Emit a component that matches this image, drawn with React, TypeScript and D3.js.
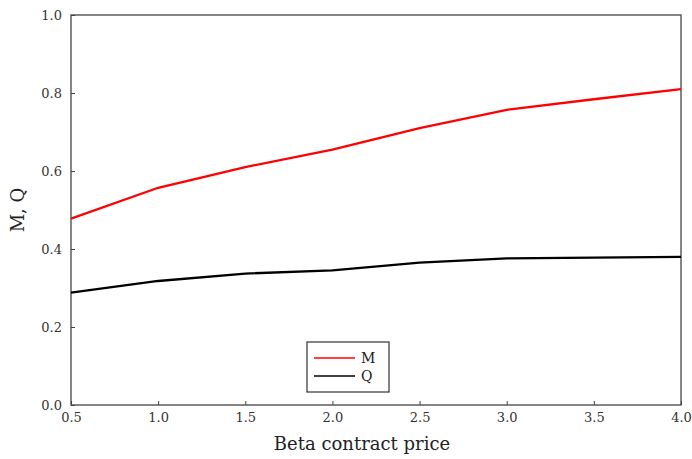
import { useRef, useEffect } from "react";
import * as d3 from "d3";

const prices = [0.5, 1.0, 1.5, 2.0, 2.5, 3.0, 3.5, 4.0];
const mValues = [0.478, 0.557, 0.61, 0.655, 0.71, 0.757, 0.784, 0.81];
const qValues = [0.288, 0.318, 0.337, 0.345, 0.365, 0.376, 0.378, 0.38];
const xTicks = [0.5, 1.0, 1.5, 2.0, 2.5, 3.0, 3.5, 4.0];
const yTicks = [0.0, 0.2, 0.4, 0.6, 0.8, 1.0];
const seriesNames = ["M", "Q"];
const seriesColors = ["#ff0000", "#000000"];

export default function App() {
  const svgRef = useRef<SVGSVGElement>(null);

  useEffect(() => {
    const WIDTH = 692;
    const HEIGHT = 459;
    const left = 71, right = 681, top = 15, bottom = 405;
    const font = "'DejaVu Serif', serif";

    const svg = d3.select(svgRef.current)
      .attr("width", WIDTH)
      .attr("height", HEIGHT);
    svg.selectAll("*").remove();

    const x = d3.scaleLinear().domain([0.5, 4.0]).range([left, right]);
    const y = d3.scaleLinear().domain([0, 1]).range([bottom, top]);

    // frame
    svg.append("rect")
      .attr("x", left).attr("y", top)
      .attr("width", right - left).attr("height", bottom - top)
      .attr("fill", "none").attr("stroke", "#444").attr("stroke-width", 1.3);

    const xAxis = d3.axisBottom(x).tickValues(xTicks).tickSize(-4).tickPadding(8)
      .tickFormat(d3.format(".1f"));
    const gx = svg.append("g").attr("transform", `translate(0,${bottom})`).call(xAxis);
    gx.select(".domain").remove();
    gx.selectAll("line").attr("stroke", "#444");
    gx.selectAll("text").attr("font-family", font).attr("font-size", 13).attr("fill", "#333");

    const yAxis = d3.axisLeft(y).tickValues(yTicks).tickSize(-4).tickPadding(9)
      .tickFormat(d3.format(".1f"));
    const gy = svg.append("g").attr("transform", `translate(${left},0)`).call(yAxis);
    gy.select(".domain").remove();
    gy.selectAll("line").attr("stroke", "#444");
    gy.selectAll("text").attr("font-family", font).attr("font-size", 13).attr("fill", "#333");

    const line = d3.line<number>()
      .x((d, i) => x(prices[i]))
      .y(d => y(d));

    [mValues, qValues].forEach((vals, i) => {
      svg.append("path")
        .attr("d", line(vals))
        .attr("fill", "none")
        .attr("stroke", seriesColors[i])
        .attr("stroke-width", 2.3);
    });

    // legend
    const lg = svg.append("g");
    lg.append("rect")
      .attr("x", 307).attr("y", 342).attr("width", 82).attr("height", 50)
      .attr("fill", "white").attr("stroke", "#333").attr("stroke-width", 1.2);
    seriesNames.forEach((name, i) => {
      const ly = 358 + i * 18;
      lg.append("line")
        .attr("x1", 314).attr("x2", 355).attr("y1", ly).attr("y2", ly)
        .attr("stroke", seriesColors[i]).attr("stroke-width", 1.4);
      lg.append("text")
        .attr("x", 361).attr("y", ly + 5)
        .attr("font-family", font).attr("font-size", 14).attr("fill", "#222")
        .text(name);
    });

    svg.append("text")
      .attr("x", 362).attr("y", 450)
      .attr("text-anchor", "middle")
      .attr("font-family", font).attr("font-size", 18).attr("fill", "#222")
      .text("Beta contract price");

    svg.append("text")
      .attr("transform", `translate(24,${(top + bottom) / 2}) rotate(-90)`)
      .attr("text-anchor", "middle")
      .attr("font-family", font).attr("font-size", 18).attr("fill", "#222")
      .text("M, Q");
  }, []);

  return (
    <div style={{ position: "absolute", left: 0, top: 0 }}>
      <svg ref={svgRef} style={{ display: "block" }} />
    </div>
  );
}
